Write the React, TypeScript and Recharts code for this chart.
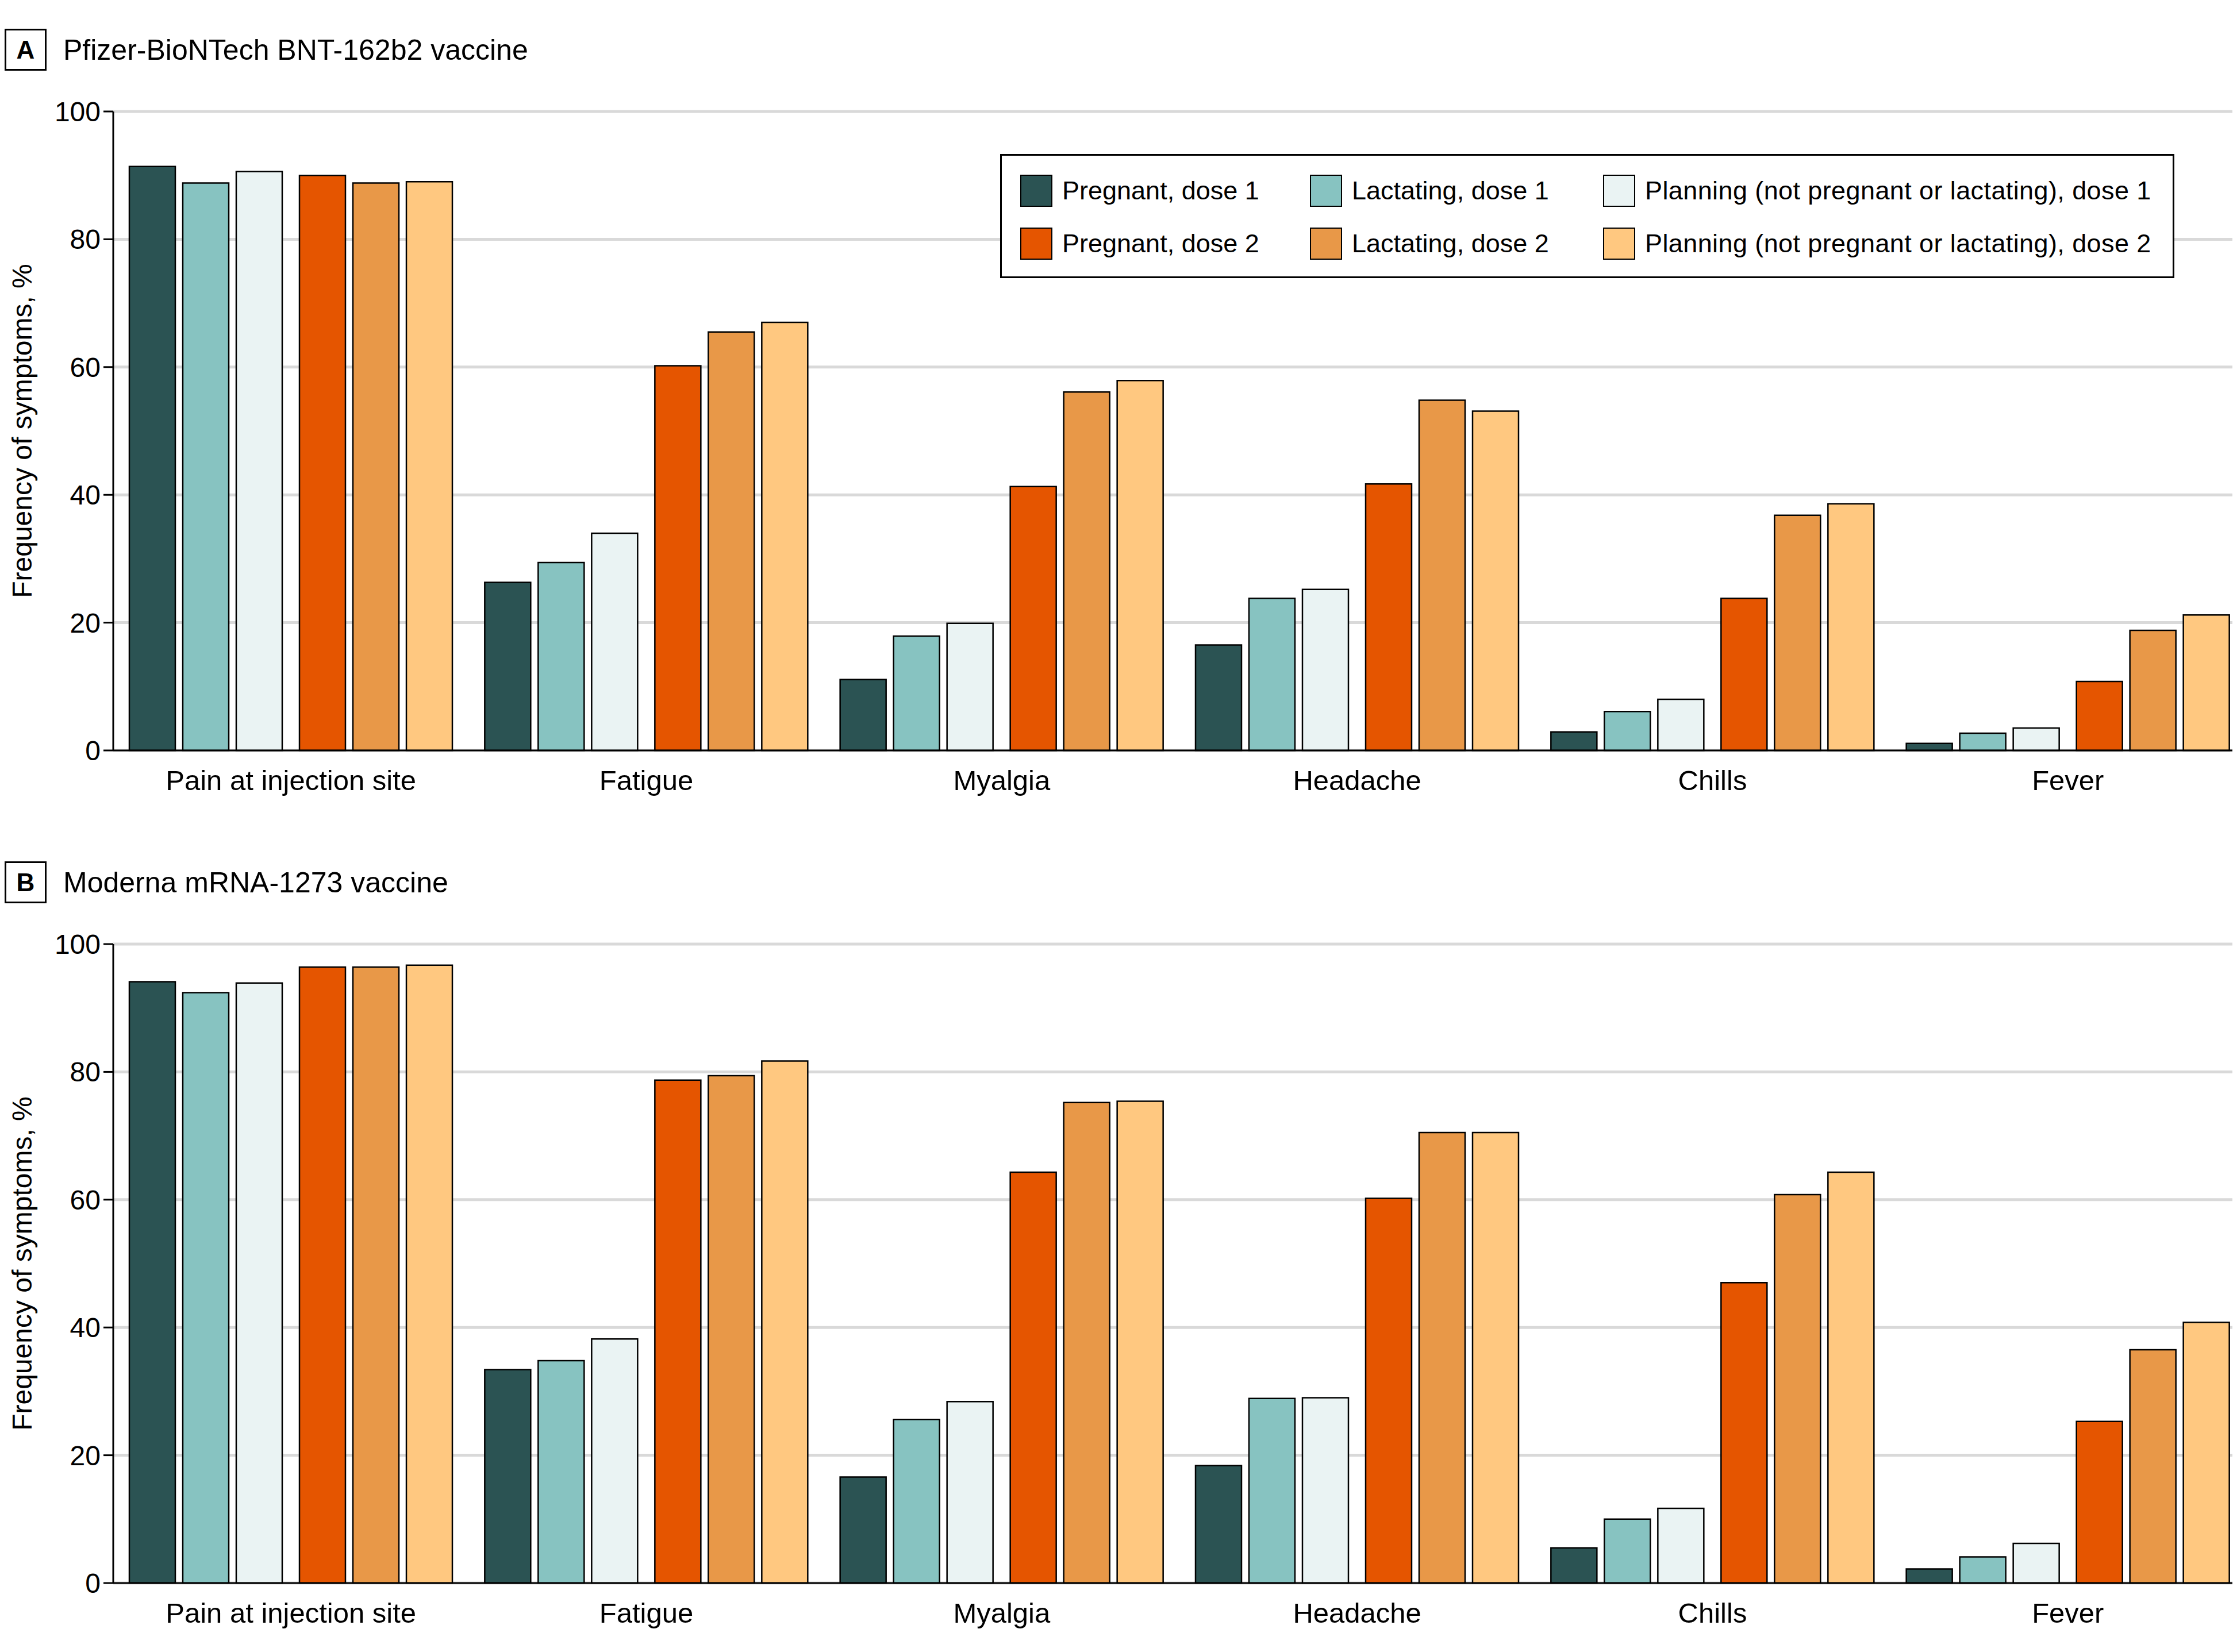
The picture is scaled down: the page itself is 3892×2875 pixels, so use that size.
import React from "react";
import {
  BarChart,
  Bar,
  XAxis,
  YAxis,
  CartesianGrid,
  Label,
  Legend,
} from "recharts";

const categories = [
  "Pain at injection site",
  "Fatigue",
  "Myalgia",
  "Headache",
  "Chills",
  "Fever",
];

// Pfizer-BioNTech (panel A)
const pfizerPregnant1 = [91.4, 26.3, 11.1, 16.5, 2.9, 1.1];
const pfizerLactating1 = [88.8, 29.4, 17.9, 23.8, 6.1, 2.7];
const pfizerPlanning1 = [90.6, 34.0, 19.9, 25.2, 8.0, 3.5];
const pfizerPregnant2 = [90.0, 60.2, 41.3, 41.7, 23.8, 10.8];
const pfizerLactating2 = [88.8, 65.5, 56.1, 54.8, 36.8, 18.8];
const pfizerPlanning2 = [89.0, 67.0, 57.9, 53.1, 38.6, 21.2];

// Moderna (panel B)
const modernaPregnant1 = [94.1, 33.4, 16.6, 18.4, 5.5, 2.2];
const modernaLactating1 = [92.4, 34.8, 25.6, 28.9, 10.0, 4.1];
const modernaPlanning1 = [93.9, 38.2, 28.4, 29.0, 11.7, 6.2];
const modernaPregnant2 = [96.4, 78.7, 64.3, 60.2, 47.0, 25.3];
const modernaLactating2 = [96.4, 79.4, 75.2, 70.5, 60.8, 36.5];
const modernaPlanning2 = [96.7, 81.7, 75.4, 70.5, 64.3, 40.8];

const yTicks = [0, 20, 40, 60, 80, 100];

const seriesNames = [
  "Pregnant, dose 1",
  "Lactating, dose 1",
  "Planning (not pregnant or lactating), dose 1",
  "Pregnant, dose 2",
  "Lactating, dose 2",
  "Planning (not pregnant or lactating), dose 2",
];
const seriesKeys = ["preg1", "lact1", "plan1", "preg2", "lact2", "plan2"];
const seriesColors = ["#2b5353", "#87c3c1", "#eaf3f3", "#e55500", "#e89848", "#ffc880"];

const FONT = '"Liberation Sans", Arial, sans-serif';

const buildRows = (cols: number[][]) =>
  categories.map((name, i) => {
    const row: Record<string, string | number> = { name };
    seriesKeys.forEach((k, s) => {
      row[k] = cols[s][i];
    });
    return row;
  });

const pfizerData = buildRows([
  pfizerPregnant1,
  pfizerLactating1,
  pfizerPlanning1,
  pfizerPregnant2,
  pfizerLactating2,
  pfizerPlanning2,
]);
const modernaData = buildRows([
  modernaPregnant1,
  modernaLactating1,
  modernaPlanning1,
  modernaPregnant2,
  modernaLactating2,
  modernaPlanning2,
]);

const LegendBox = () => {
  const colLeft = [32, 536, 1046];
  return (
    <div
      style={{
        position: "relative",
        width: 2043,
        height: 216,
        border: "3px solid #000",
        boxSizing: "border-box",
        background: "#fff",
        fontFamily: FONT,
        fontSize: 45,
        color: "#000",
      }}
    >
      {seriesNames.map((label, s) => {
        const col = s % 3;
        const row = Math.floor(s / 3);
        return (
          <div
            key={label}
            style={{
              position: "absolute",
              left: colLeft[col],
              top: 33 + row * 92,
              display: "flex",
              alignItems: "center",
              whiteSpace: "nowrap",
            }}
          >
            <span
              style={{
                display: "inline-block",
                width: 56,
                height: 56,
                background: seriesColors[s],
                border: "2.5px solid #000",
                boxSizing: "border-box",
                marginRight: 17,
              }}
            />
            <span style={{ letterSpacing: s % 3 === 2 ? 0.4 : 0 }}>{label}</span>
          </div>
        );
      })}
    </div>
  );
};

const YLabel = (props: any) => {
  const vb = props.viewBox || { x: 0, y: 0, height: 0 };
  const cx = vb.x + 21;
  const cy = vb.y + vb.height / 2;
  return (
    <text
      x={cx}
      y={cy}
      transform={`rotate(-90 ${cx} ${cy})`}
      textAnchor="middle"
      dominantBaseline="central"
      fontSize={48}
      fontFamily={FONT}
      fill="#000"
    >
      Frequency of symptoms, %
    </text>
  );
};

type PanelProps = {
  letter: string;
  title: string;
  data: Record<string, string | number>[];
  top: number;
  showLegend?: boolean;
};

// the plot runs a little past the right edge of the figure, as in the source
const CHART_W = 3915;

const Panel: React.FC<PanelProps> = ({ letter, title, data, top, showLegend }) => (
  <div
    style={{
      position: "absolute",
      left: 0,
      top,
      width: 3892,
      height: 1420,
      overflow: "hidden",
    }}
  >
    <div
      style={{
        position: "absolute",
        left: 8,
        top: 50,
        width: 73,
        height: 73,
        border: "3px solid #000",
        boxSizing: "border-box",
        display: "flex",
        alignItems: "center",
        justifyContent: "center",
        fontFamily: FONT,
        fontWeight: 700,
        fontSize: 44,
      }}
    >
      {letter}
    </div>
    <div
      style={{
        position: "absolute",
        left: 110,
        top: 58,
        fontFamily: FONT,
        fontSize: 50,
        lineHeight: "58px",
        whiteSpace: "nowrap",
      }}
    >
      {title}
    </div>
    <BarChart
      width={CHART_W}
      height={1420}
      data={data}
      margin={{ top: 194, right: 8, bottom: 34, left: 17 }}
      barGap={13}
      style={{ position: "absolute", left: 0, top: 0 }}
    >
      <CartesianGrid horizontal vertical={false} stroke="#d9d9d9" strokeWidth={5} />
      <XAxis
        dataKey="name"
        height={80}
        tickLine={false}
        tickSize={0}
        tickMargin={34}
        axisLine={{ stroke: "#000", strokeWidth: 3 }}
        tick={{ fontSize: 49, fill: "#000", fontFamily: FONT }}
        interval={0}
      />
      <YAxis
        width={180}
        domain={[0, 100]}
        ticks={yTicks}
        interval={0}
        tickSize={17}
        tickMargin={5}
        axisLine={{ stroke: "#000", strokeWidth: 3 }}
        tickLine={{ stroke: "#000", strokeWidth: 3 }}
        tick={{ fontSize: 48, fill: "#000", fontFamily: FONT }}
      >
        <Label content={<YLabel />} />
      </YAxis>
      {showLegend && (
        <Legend
          layout="horizontal"
          verticalAlign="middle"
          content={() => <LegendBox />}
          wrapperStyle={{ position: "absolute", left: 1740, top: 268, width: 2043, height: 216 }}
        />
      )}
      {seriesKeys.slice(0, 3).map((k, s) => (
        <Bar
          key={k}
          dataKey={k}
          name={seriesNames[s]}
          fill={seriesColors[s]}
          stroke="#000"
          strokeWidth={2.5}
          barSize={80}
          isAnimationActive={false}
        />
      ))}
      <Bar dataKey="gapSpacer" barSize={4} legendType="none" fill="none" isAnimationActive={false} />
      {seriesKeys.slice(3).map((k, i) => (
        <Bar
          key={k}
          dataKey={k}
          name={seriesNames[i + 3]}
          fill={seriesColors[i + 3]}
          stroke="#000"
          strokeWidth={2.5}
          barSize={80}
          isAnimationActive={false}
        />
      ))}
    </BarChart>
  </div>
);

export default function App() {
  return (
    <div
      style={{
        position: "relative",
        width: 3892,
        height: 2875,
        margin: -8,
        background: "#fff",
        fontFamily: FONT,
        overflow: "hidden",
      }}
    >
      <Panel
        letter="A"
        title="Pfizer-BioNTech BNT-162b2 vaccine"
        data={pfizerData}
        top={0}
        showLegend
      />
      <Panel letter="B" title="Moderna mRNA-1273 vaccine" data={modernaData} top={1449} />
    </div>
  );
}
